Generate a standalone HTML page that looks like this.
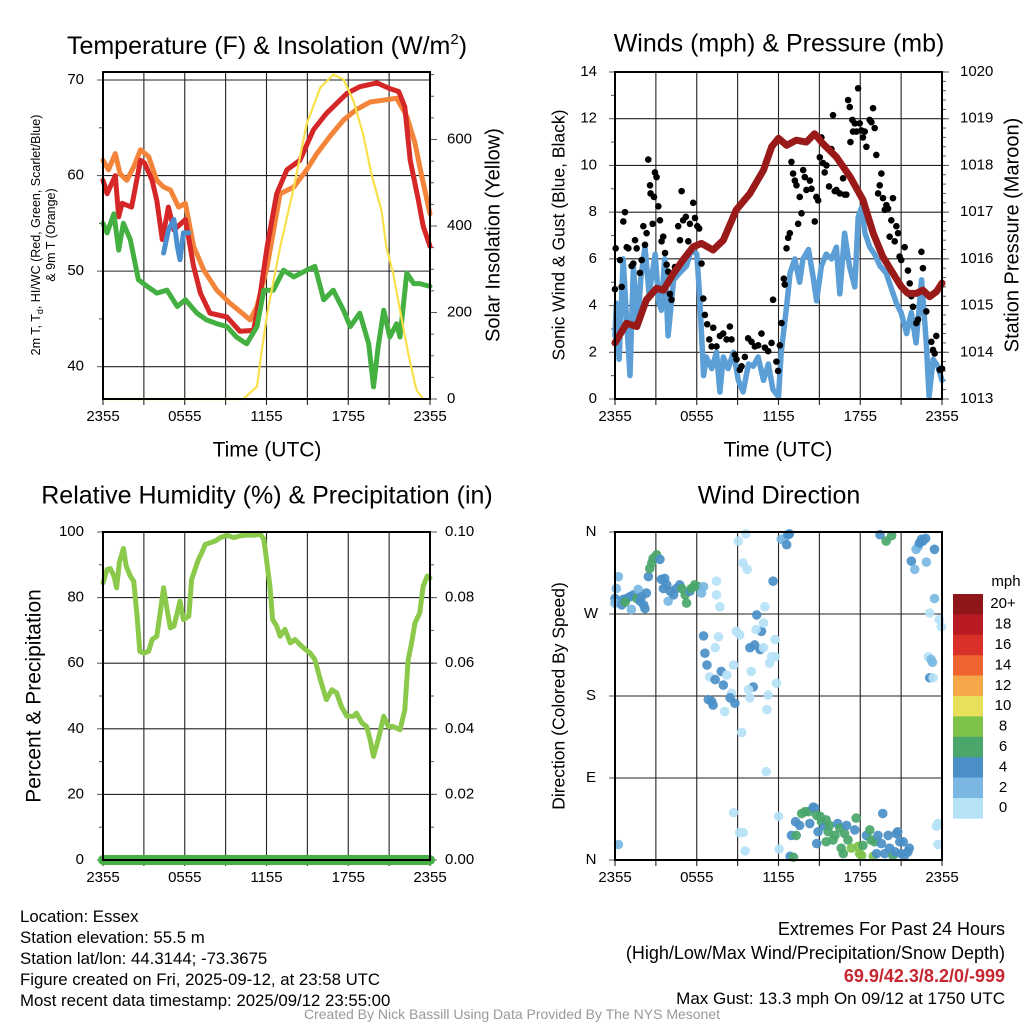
<!DOCTYPE html>
<html><head><meta charset="utf-8"><style>
html,body{margin:0;padding:0;background:#fff;}
svg{display:block;font-family:"Liberation Sans",Arial,sans-serif;}
</style></head><body>
<svg id="fig" width="1024" height="1024" viewBox="0 0 1024 1024" xmlns="http://www.w3.org/2000/svg">
<rect width="1024" height="1024" fill="#fff"/>
<g id="p1"></g>
<g id="p2"></g>
<g id="p3"></g>
<g id="p4"></g>

<text x="267" y="54" font-size="25" text-anchor="middle">Temperature (F) &amp; Insolation (W/m<tspan font-size="15" dy="-10">2</tspan><tspan dy="10">)</tspan></text>
<text x="779" y="45" font-size="25" text-anchor="middle" dominant-baseline="middle">Winds (mph) &amp; Pressure (mb)</text>
<text x="267" y="497" font-size="25" text-anchor="middle" dominant-baseline="middle">Relative Humidity (%) &amp; Precipitation (in)</text>
<text x="779" y="497" font-size="25" text-anchor="middle" dominant-baseline="middle">Wind Direction</text>

<text x="267" y="451" font-size="21" text-anchor="middle" dominant-baseline="middle">Time (UTC)</text>
<text x="778" y="451" font-size="21" text-anchor="middle" dominant-baseline="middle">Time (UTC)</text>

<text transform="translate(40,235) rotate(-90)" font-size="12.5" text-anchor="middle">2m T, T<tspan font-size="9" dy="3">d</tspan><tspan dy="-3">, HI/WC (Red, Green, Scarlet/Blue)</tspan></text>
<text transform="translate(55,235) rotate(-90)" font-size="12.5" text-anchor="middle">&amp; 9m T (Orange)</text>
<text transform="translate(494,235) rotate(-90)" font-size="20" text-anchor="middle" dominant-baseline="middle">Solar Insolation (Yellow)</text>
<text transform="translate(560,235) rotate(-90)" font-size="17.5" text-anchor="middle" dominant-baseline="middle">Sonic Wind &amp; Gust (Blue, Black)</text>
<text transform="translate(1013,235) rotate(-90)" font-size="20" text-anchor="middle" dominant-baseline="middle">Station Pressure (Maroon)</text>
<text transform="translate(35,696) rotate(-90)" font-size="21" text-anchor="middle" dominant-baseline="middle">Percent &amp; Precipitation</text>
<text transform="translate(560,696) rotate(-90)" font-size="17.5" text-anchor="middle" dominant-baseline="middle">Direction (Colored By Speed)</text>

<g font-size="16.8">
<text x="20" y="922">Location: Essex</text>
<text x="20" y="943">Station elevation: 55.5 m</text>
<text x="20" y="964">Station lat/lon: 44.3144; -73.3675</text>
<text x="20" y="985">Figure created on Fri, 2025-09-12, at 23:58 UTC</text>
<text x="20" y="1006">Most recent data timestamp: 2025/09/12 23:55:00</text>
<text x="1005" y="935" font-size="18" text-anchor="end">Extremes For Past 24 Hours</text>
<text x="1005" y="959" font-size="18" text-anchor="end">(High/Low/Max Wind/Precipitation/Snow Depth)</text>
<text x="1005" y="982" font-size="18" text-anchor="end" font-weight="bold" fill="#c6262d">69.9/42.3/8.2/0/-999</text>
<text x="1005" y="1004" font-size="17" text-anchor="end">Max Gust: 13.3 mph On 09/12 at 1750 UTC</text>
<text x="512" y="1019" text-anchor="middle" font-size="14" fill="#999">Created By Nick Bassill Using Data Provided By The NYS Mesonet</text>
</g>
</svg>
<script>
// ---------- data ----------
const xTickLabels = ["2355","0555","1155","1755","2355"];
// Temperature panel
const redT = [0,0.3,0.9,1.15,1.4,2.1,2.75,3.05,3.6,3.95,4.35,4.8,5.2,6.05,6.65,7.15,7.85,9.1,10.05,11.05,11.55,12.05,12.75,13.5,14.45,15.45,16.4,17.9,18.85,20.1,21.05,21.7,22.15,22.55,23.15,23.5,24];
const redV = [59.5,58.1,60,55.7,57.1,56.7,61.6,61.3,59.5,57.4,53.3,56.7,54.3,55.4,50.5,47.7,45.6,45.2,43.7,43.8,47.7,52.6,58.1,60.6,61.6,64.8,66.5,68.6,69.3,69.7,69.1,68.8,67.2,61.6,57.4,54.7,52.6];
const orgT = [0,0.4,0.9,1.25,1.75,2.25,2.75,3.35,3.95,4.45,4.95,5.55,6.05,6.65,7.4,8.35,9.35,10.05,10.8,11.3,12.05,13.0,14.0,14.95,15.7,16.65,17.65,18.6,19.6,20.6,21.55,22.3,22.9,23.4,24];
const orgV = [61.6,60.6,62.3,60.2,59.5,60.9,62.7,62,59.5,58.8,58.5,56.7,57.1,52.6,50.1,48,46.6,45.8,44.9,46.3,50.5,58.1,58.8,60.6,62.3,64.1,65.8,66.9,67.7,67.9,68.1,66.2,63.4,59.9,56.0];
const grnT = [0,0.3,0.8,1.15,1.5,2.0,2.6,3.25,3.95,4.7,5.45,6.05,6.9,7.6,8.35,9.1,9.8,10.55,11.3,11.8,12.5,13.25,14.0,14.95,15.55,16.2,16.9,17.65,18.15,18.85,19.5,19.85,20.2,20.6,21.05,21.55,21.8,22.3,22.8,23.25,24];
const grnV = [55,54,56,52.2,55,53.3,49.1,48.4,47.7,48,46.3,47,45.6,44.9,44.5,44.2,43.1,42.4,44.2,48,48,50.1,49.4,50.1,50.5,47,48,45.9,44.2,45.6,42.4,37.9,42.1,45.9,43.1,44.5,43.1,49.8,48.7,48.7,48.4];
const hiT = [4.45,4.8,5.2,5.45,5.65,5.9,6.3];
const hiV = [51.9,54.3,55.4,52.6,51.2,54,54];
const solT = [0,10.3,11.3,11.55,12.05,13.0,14.0,14.95,15.95,16.9,17.65,18.4,19.1,19.7,20.45,20.8,21.3,21.8,22.4,23.0,23.5,24];
const solV = [0,0,29,90,198,351,489,636,720,750,739,688,611,520,435,351,290,205,106,21,0,0];
const tempTicks = [40,50,60,70];
const solTicks = [0,200,400,600];
// Wind panel
const presT = [0,0.85,1.6,2.3,3.05,3.55,4.3,5.0,5.75,6.35,7.2,7.95,8.9,9.9,10.9,11.5,12.0,12.6,13.3,14.05,14.65,15.25,16.25,17.25,18.2,18.95,19.65,20.4,21.0,21.5,22.1,22.6,23.1,23.6,24];
const presV = [1014.2,1014.62,1014.55,1015.12,1015.37,1015.33,1015.69,1015.98,1016.26,1016.33,1016.19,1016.4,1017.05,1017.4,1017.9,1018.4,1018.58,1018.43,1018.54,1018.5,1018.68,1018.47,1018.18,1017.76,1017.26,1016.55,1016.05,1015.69,1015.41,1015.26,1015.26,1015.33,1015.19,1015.3,1015.48];
const windT = [0,0.1,0.3,0.6,0.85,1.1,1.35,1.65,1.9,2.2,2.5,2.95,3.2,3.4,3.65,3.9,4.3,4.75,5.25,5.6,6.0,6.2,6.5,6.7,7.1,7.45,7.7,7.95,8.3,8.7,9.05,9.4,9.8,10.15,10.5,10.9,11.25,11.6,12.0,12.2,12.6,12.85,13.2,13.55,13.8,14.2,14.55,14.8,15.15,15.5,15.9,16.25,16.5,16.85,17.2,17.6,17.85,18.1,18.35,18.7,19.05,19.45,19.9,20.3,20.65,21.0,21.4,21.75,22.1,22.5,22.85,23.05,23.35,23.7,24];
const windV = [2.7,4.1,1.7,6,3.4,1,5.7,3.1,5.2,6.5,4.5,6.2,4.2,3.8,6,2.7,5.1,5.4,5.7,6.4,6.2,4.5,1,1.8,1.3,2,0.3,1.8,1.3,2,0.8,0.3,1.5,1.4,1.8,0.8,1.5,0.4,0.1,2,4,5.4,6,5,6,6.4,5.2,4.2,5.7,6.2,6,6.5,4.5,7.1,5.7,4.8,7.8,8.2,7.1,6.5,6.2,5.7,5.4,4.7,4.1,3.7,2.8,3.7,2.4,5.1,2.4,0.1,1.7,1.4,0.8];
const gustT = [0,0.05,0.37,0.49,0.61,0.73,0.86,0.98,1.22,1.34,1.47,1.59,1.83,1.96,2.08,2.2,2.32,2.44,2.57,2.61,2.76,2.86,2.93,3.05,3.18,3.3,3.42,3.54,3.67,3.79,3.91,4.03,4.15,4.4,4.64,4.77,4.89,5.0,5.2,5.38,5.5,5.74,5.87,6.04,6.18,6.35,6.48,6.6,6.77,6.92,7.09,7.21,7.45,7.7,7.94,8.19,8.43,8.55,8.8,8.92,9.16,9.29,9.53,9.77,10.02,10.26,10.51,10.75,11.0,11.24,11.49,11.6,11.85,11.97,12.1,12.22,12.39,12.46,12.59,12.71,12.83,12.95,13.07,13.2,13.32,13.44,13.56,13.69,13.81,13.93,14.05,14.3,14.42,14.66,14.78,14.91,15.03,15.15,15.27,15.39,15.52,15.71,15.88,16.0,16.13,16.25,16.5,16.74,16.86,16.98,17.11,17.23,17.28,17.42,17.47,17.6,17.72,17.84,17.96,18.08,18.2,18.33,18.45,18.69,18.82,18.94,19.06,19.18,19.31,19.43,19.55,19.67,19.8,19.92,20.04,20.16,20.28,20.4,20.53,20.65,20.77,20.89,21.01,21.26,21.5,21.63,21.75,21.87,22.12,22.24,22.49,22.6,22.85,23.22,23.34,23.46,23.58,23.83,24];
const gustV = [4.7,6.45,5.95,4.8,7.6,8.0,6.5,6.45,5.7,5.8,6.8,6.45,5.4,5.95,7.4,6.6,7.1,10.25,9.15,8.8,7.5,8.65,9.7,9.5,8.25,7.65,6.75,6.95,6.25,5.75,5.45,4.5,4.25,5.65,7.4,6.8,8.9,7.65,7.8,6.75,7.5,8.4,7.75,7.4,7.3,5.8,4.3,3.6,3.2,2.55,2.25,3.05,2.25,2.7,2.8,2.55,3.1,2.55,1.9,1.7,1.25,1.4,1.8,2.6,2.45,2.25,2.3,2.8,2.2,2.05,2.4,4.25,1.6,1.2,2.3,3.25,5.15,4.9,6.45,6.9,7.1,10.15,9.65,9.35,9.15,7.5,8.65,7.95,9.8,9.5,8.95,9.35,9.0,7.6,8.65,8.5,10.35,11.2,10.1,9.7,10.0,9.1,10.7,12.15,8.9,8.95,8.8,9.45,8.75,8.75,12.8,12.5,11.0,11.95,11.45,11.8,11.45,13.3,11.8,11.5,11.2,11.45,10.8,11.95,11.85,12.45,11.6,10.45,8.8,9.15,9.65,8.6,8.1,8.3,8.15,6.95,7.65,8.6,6.75,7.4,7.1,6.1,5.95,6.5,5.5,4.95,4.4,3.95,3.25,3.4,6.3,5.6,3.75,2.45,2.1,1.95,2.7,1.25,1.3];
const windTicks = [0,2,4,6,8,10,12,14];
const presTicks = [1013,1014,1015,1016,1017,1018,1019,1020];
// Humidity panel
const rhT = [0,0.3,0.55,0.8,1.0,1.2,1.5,1.7,2.0,2.25,2.5,2.7,3.0,3.35,3.6,3.95,4.2,4.45,4.7,4.95,5.2,5.45,5.65,5.9,6.3,6.5,6.75,7.0,7.25,7.5,7.85,8.25,8.6,9.1,9.6,10.05,10.55,11.05,11.55,11.8,12.0,12.25,12.45,12.75,13.0,13.35,13.75,14.1,14.45,14.85,15.2,15.55,15.95,16.4,16.8,17.15,17.5,17.9,18.4,18.6,19.0,19.35,19.6,19.85,20.2,20.6,20.95,21.3,21.8,22.15,22.4,22.65,22.9,23.25,23.5,23.8,24];
const rhV = [84.5,88.6,88.8,86.6,83,90.6,95,89.6,86.6,85,74.3,63.6,63.1,63.6,67.2,68.2,75.4,83,76.4,70.8,71.3,75.4,78.9,73.3,74.3,85.5,88.6,91.6,93.7,96.2,96.7,97.3,98.3,99,98.3,98.8,99.1,99,99.3,97.8,91.6,83.5,73.3,71.3,68.2,70.3,66.2,67.2,65.7,64.2,63.1,61.1,55,48.9,51.9,50.9,46.8,43.8,43.8,44.8,41.8,40.7,36.7,31.6,36.7,43.8,40.7,40.7,39.7,45.8,61.1,66.2,72.3,75.4,83.5,86.6,86];
const precipT = [0,24];
const precipV = [0,0];
const rhTicks = [0,20,40,60,80,100];
const precipTicks = ["0.00","0.02","0.04","0.06","0.08","0.10"];
// Wind direction panel
const dirT = [0,0.1,0.25,0,0.5,0.6,0.85,1.1,1.2,1.35,1.6,1.7,1.85,1.95,2.1,2.2,2.3,0.75,2.45,2.55,2.7,2.8,3.05,3.3,3.4,3.55,3.65,3.8,3.9,4.05,4.3,4.5,4.75,4.9,5.15,5.25,5.5,5.6,5.85,6.1,6.35,6.5,7.45,7.45,7.7,6.5,6.6,6.75,6.95,7.35,7.35,7.6,7.8,7.95,8.2,8.55,8.7,8.45,8.8,6.85,7.1,7.2,8.05,8.9,9.15,9.05,9.6,9.4,9.7,10.0,10.15,9.8,9.9,9.9,10.25,10.4,10.65,10.75,10.9,10.9,10.35,11.0,11.35,11.5,11.75,11.6,11.75,11.85,11.25,11.15,9.3,11.1,8.7,9.15,9.4,9.55,12.0,12.05,0.25,12.2,12.45,12.6,12.7,12.8,12.85,13.1,12.95,13.3,13.25,13.55,13.7,13.95,14.2,14.3,14.55,14.65,14.8,15.05,14.9,14.8,15.15,15.4,15.5,15.65,15.75,15.5,16.0,16.15,16.35,16.5,16.6,16.75,16.85,17.0,17.1,17.35,17.6,17.7,17.85,17.95,18.1,18.2,18.45,18.7,18.8,18.95,19.05,19.2,19.3,19.55,19.65,19.8,20.05,20.15,20.4,20.55,20.65,20.75,20.9,21.0,21.25,21.5,21.6,21.15,19.45,19.9,20.3,21.75,22.0,22.1,22.25,22.35,22.5,22.6,22.8,22.85,23.45,23.45,23.1,23.8,23.95,23.0,23.2,23.3,23.1,23.35,23.7,23.6,23.7];
const dirV = [287,298,311,282,280,286,287,289,275,291,287,297,284,289,280,276,293,283,311,320,326,331,335,330,308,298,309,302,284,295,291,298,302,298,291,282,295,298,302,300,293,300,306,291,278,246,227,214,201,198,233,245,207,192,203,183,214,178,172,176,174,170,163,251,247,350,358,326,319,207,190,187,178,233,236,269,231,251,233,260,253,278,216,223,223,306,242,194,181,165,140,97,52,30,30,10,48,12,17,352,353,346,357,358,4,3,27,27,42,38,51,53,53,40,58,57,49,48,31,18,42,37,44,31,38,20,22,27,40,35,13,7,29,38,22,13,33,46,15,7,5,16,27,33,22,4,20,7,27,18,51,7,27,13,5,9,29,31,20,7,5,9,13,20,357,350,356,328,319,341,344,348,352,350,353,327,341,287,271,264,256,223,220,217,200,200,40,37,17];
const dirS = [5,3,3,3,5,5,5,5,3,5,7,3,5,5,5,5,5,7,5,7,7,7,7,5,5,5,5,5,3,5,5,5,5,7,7,7,5,7,7,7,3,3,1,1,1,5,5,5,1,5,1,1,5,5,1,1,1,5,5,5,5,5,1,1,1,1,1,1,1,1,5,1,1,5,5,5,5,5,1,1,1,1,1,1,1,5,1,1,1,1,1,1,1,1,1,1,1,1,3,3,3,5,5,5,5,7,5,7,5,5,7,7,7,5,5,5,7,7,5,5,7,5,7,7,7,7,7,7,5,7,7,7,7,5,7,9,5,7,9,9,9,7,5,7,7,9,7,5,5,5,5,5,5,5,7,5,5,5,5,5,5,5,5,5,5,7,7,5,3,3,3,5,5,5,5,3,5,3,1,1,1,1,3,3,5,1,1,1,1,1];
const dirTickLabels = ["N","E","S","W","N"];
const cbLabels = ["20+","18","16","14","12","10","8","6","4","2","0"];
const cbColors = ["#8e1518","#b81c22","#d9302a","#ef6330","#f5a84a","#e6e05a","#7dc24b","#4aa66a","#4a8fc7","#7ab8e3","#b6e2f7"];

// ---------- helpers ----------
const NS = "http://www.w3.org/2000/svg";
function mk(parent, tag, attrs){ const e=document.createElementNS(NS,tag); for(const k in attrs) e.setAttribute(k,attrs[k]); parent.appendChild(e); return e; }
function lin(d0,d1,r0,r1){ return v => r0 + (v-d0)/(d1-d0)*(r1-r0); }
function pathD(xs,ys,fx,fy){ let d=""; const n=Math.min(xs.length,ys.length); for(let i=0;i<n;i++){ d+=(i?"L":"M")+fx(xs[i]).toFixed(1)+" "+fy(ys[i]).toFixed(1);} return d; }

function frame(g, L,R,T,B, fx){
  for(let h=0;h<=24;h+=3){
    const x=fx(h);
    const ln=mk(g,"line",{x1:x,x2:x,y1:T,y2:B+6,stroke:"#222","stroke-width":1.1});
    
    
  }
  xTickLabels.forEach((s,i)=>{
    const t=mk(g,"text",{x:fx(i*6),y:B+18,"font-size":15,"text-anchor":"middle","dominant-baseline":"middle"});
    t.textContent=s;
    
    
  });
}
function hgrid(g,L,R,y){
  const ln=mk(g,"line",{x1:L,x2:R,y1:y,y2:y,stroke:"#222","stroke-width":1.1});
  
  
}
function border(g,L,R,T,B){
  const r=mk(g,"rect",{x:L,y:T,width:R-L,height:B-T,fill:"none",stroke:"#000","stroke-width":2});
  
  
}
function tick(g,x,y,dx){
  const ln=mk(g,"line",{x1:x,x2:x+dx,y1:y,y2:y,stroke:"#555","stroke-width":1});
  
  
}
function label(g,x,y,s,anchor,size){
  const t=mk(g,"text",{x:x,y:y,"font-size":size||15,"text-anchor":anchor,"dominant-baseline":"middle"});
  t.textContent=s;
  
  
  return t;
}
function series(g,xs,ys,fx,fy,color,w,name){
  const p=mk(g,"path",{d:pathD(xs,ys,fx,fy),fill:"none",stroke:color,"stroke-width":w,"stroke-linejoin":"round","stroke-linecap":"round"});
  
  
  return p;
}

// ---------- Panel 1 ----------
(function(){
  const g=document.getElementById("p1");
  const L=103,R=430,T=72,B=399;
  const fx=lin(0,24,L,R), fy=lin(40,70,366.7,80), fs=lin(0,600,399,139.5);
  frame(g,L,R,T,B,fx);
  hgrid(g,L,R,T);
  tempTicks.forEach(v=>{ hgrid(g,L,R,fy(v)); tick(g,L,fy(v),-6); label(g,84,fy(v),String(v),"end"); });
  for(let v=45;v<70;v+=10) tick(g,L,fy(v),-4);
  solTicks.forEach(v=>{ tick(g,R,fs(v),7); label(g,447,fs(v),String(v),"start"); });
  for(let v=50;v<=750;v+=50) tick(g,R,fs(v),4);
  series(g,orgT,orgV,fx,fy,"#f4843a",5,"9m-temperature-line");
  series(g,redT,redV,fx,fy,"#d52628",5,"2m-temperature-line");
  series(g,grnT,grnV,fx,fy,"#45b042",5,"dewpoint-line");
  series(g,hiT,hiV,fx,fy,"#4a90d0",5,"heat-index-windchill-line");
  series(g,solT,solV,fx,fs,"#f9e04b",2.2,"solar-insolation-line");
  border(g,L,R,T,B);
})();

// ---------- Panel 2 ----------
(function(){
  const g=document.getElementById("p2");
  const L=615,R=942,T=72,B=399;
  const fx=lin(0,24,L,R), fy=lin(0,14,B,T), fp=lin(1013,1020,B,T);
  frame(g,L,R,T,B,fx);
  windTicks.forEach(v=>{ hgrid(g,L,R,fy(v)); tick(g,L,fy(v),-6); label(g,597,fy(v),String(v),"end"); });
  for(let v=1;v<14;v+=2) tick(g,L,fy(v),-4);
  presTicks.forEach(v=>{ tick(g,R,fp(v),7); label(g,960,fp(v),String(v),"start"); });
  for(let v=1013.2;v<1020;v+=0.2) tick(g,R,fp(v),4);
  series(g,windT,windV,fx,fy,"#5b9fd6",5.5,"sonic-wind-line");
  const n=Math.min(gustT.length,gustV.length);
  for(let i=0;i<n;i++){
    const c=mk(g,"circle",{cx:fx(gustT[i]),cy:fy(gustV[i]),r:3.3,fill:"#000"});
    
    
  }
  series(g,presT,presV,fx,fp,"#9a1a1a",7,"station-pressure-line");
  border(g,L,R,T,B);
})();

// ---------- Panel 3 ----------
(function(){
  const g=document.getElementById("p3");
  const L=103,R=430,T=532,B=860;
  const fx=lin(0,24,L,R), fy=lin(0,100,B,T), fpr=lin(0,0.1,B,T);
  frame(g,L,R,T,B,fx);
  rhTicks.forEach((v,i)=>{
    hgrid(g,L,R,fy(v)); tick(g,L,fy(v),-6); label(g,84,fy(v),String(v),"end");
    tick(g,R,fy(v),7); label(g,445,fy(v),precipTicks[i],"start");
  });
  for(let v=10;v<100;v+=20) tick(g,L,fy(v),-4);
  for(let v=10;v<100;v+=10) tick(g,R,fy(v),4);
  series(g,rhT,rhV,fx,fy,"#8bc94a",5,"relative-humidity-line");
  series(g,precipT,precipV,fx,fpr,"#46b046",10,"precipitation-line");
  border(g,L,R,T,B);
})();

// ---------- Panel 4 ----------
(function(){
  const g=document.getElementById("p4");
  const L=615,R=942,T=532,B=860;
  const fx=lin(0,24,L,R), fy=lin(0,360,B,T);
  frame(g,L,R,T,B,fx);
  dirTickLabels.forEach((s,i)=>{ const y=fy(i*90); hgrid(g,L,R,y); tick(g,L,y,-6); label(g,591,y,s,"middle",15); });
  function colorFor(s){ const idx=Math.min(10,Math.floor(s/2)); return cbColors[10-idx]; }
  const n=Math.min(dirT.length,dirV.length,dirS.length);
  for(let i=0;i<n;i++){
    const c=mk(g,"circle",{cx:fx(dirT[i]),cy:fy(dirV[i]),r:4.8,fill:colorFor(dirS[i]),"fill-opacity":0.92});
    
    
  }
  border(g,L,R,T,B);
  const cbTop=594, cbH=20.4;
  cbColors.forEach((col,i)=>{
    const r=mk(g,"rect",{x:953,y:cbTop+i*cbH,width:30,height:cbH+0.3,fill:col});
    
    
    const t=mk(g,"text",{x:1003,y:cbTop+i*cbH+cbH/2,"font-size":15,"text-anchor":"middle","dominant-baseline":"middle"});
    t.textContent=cbLabels[i];
    
    
  });
  const u=mk(g,"text",{x:1006,y:582,"font-size":15,"text-anchor":"middle","dominant-baseline":"middle"});
  u.textContent="mph";
  
  
})();
</script>
</body></html>
